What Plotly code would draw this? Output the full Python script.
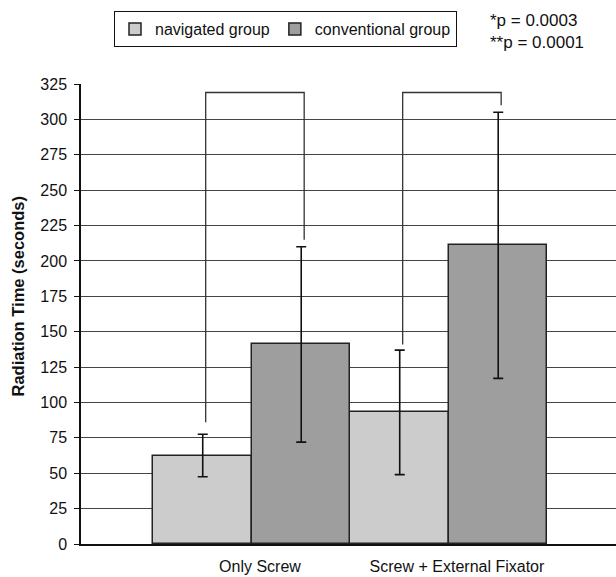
import plotly.graph_objects as go

categories = ["Only Screw", "Screw + External Fixator"]
series_names = ["navigated group", "conventional group"]
navigated = [62.5, 93]
navigated_sd = [15, 44]
conventional = [141, 211]
conventional_sd = [69, 94]
bracket_top = [319, 319]
bracket_left_end = [86, 141]
bracket_right_end = [215, 310]
bracket_labels = ["*", "**"]
p_texts = ["*p = 0.0003", "**p = 0.0001"]
y_ticks = list(range(0, 326, 25))

FONT = "Liberation Sans, Arial, sans-serif"
NAV_COLOR = "#cbcccb"
CONV_COLOR = "#9d9e9d"

fig = go.Figure()
fig.add_trace(go.Bar(
    name=series_names[0], x=categories, y=navigated,
    marker=dict(color=NAV_COLOR, line=dict(color="#222", width=1.5)),
    error_y=dict(type="data", array=navigated_sd, color="#111", thickness=1.6, width=5),
))
fig.add_trace(go.Bar(
    name=series_names[1], x=categories, y=conventional,
    marker=dict(color=CONV_COLOR, line=dict(color="#222", width=1.5)),
    error_y=dict(type="data", array=conventional_sd, color="#111", thickness=1.6, width=5),
))

# significance brackets
for i in range(len(categories)):
    xl = i - 0.25 + 0.015
    xr = i + 0.25 + 0.015
    fig.add_shape(type="path", xref="x", yref="y",
                  path=f"M {xl} {bracket_left_end[i]} L {xl} {bracket_top[i]} L {xr} {bracket_top[i]} L {xr} {bracket_right_end[i]}",
                  line=dict(color="#333", width=1.3))
    fig.add_annotation(x=i - 0.02, y=331, xref="x", yref="y", text=bracket_labels[i],
                       showarrow=False, font=dict(family=FONT, size=16, color="#111"),
                       xanchor="center", yanchor="middle")

for k, t in enumerate(p_texts):
    fig.add_annotation(x=(488 - 81) / 535, y=[1.139, 1.091][k], xref="paper", yref="paper",
                       text=t, showarrow=False, xanchor="left", yanchor="middle",
                       font=dict(family=FONT, size=17, color="#111"))

fig.add_annotation(x=(17.5 - 81) / 535, y=0.537, xref="paper", yref="paper",
                   text="<b>Radiation Time (seconds)</b>", textangle=-90, showarrow=False,
                   xanchor="center", yanchor="middle",
                   font=dict(family=FONT, size=16.5, color="#111"))

fig.update_layout(
    width=616, height=577,
    margin=dict(l=81, r=0, t=84, b=33),
    paper_bgcolor="white", plot_bgcolor="white",
    barmode="group", bargap=0, bargroupgap=0,
    font=dict(family=FONT, size=16, color="#111"),
    legend=dict(orientation="h", x=(114 - 81) / 535, y=(544 - 11) / 460,
                xanchor="left", yanchor="top", bordercolor="#111", borderwidth=1,
                font=dict(family=FONT, size=16, color="#111"), itemwidth=30,
                bgcolor="white"),
    showlegend=True,
)
fig.update_xaxes(
    type="category", range=[-0.868, 1.848], showgrid=False,
    showline=True, linecolor="#111", linewidth=1.5, ticks="",
    ticklabelstandoff=7, ticklabelshift=8,
    tickfont=dict(family=FONT, size=16, color="#111"),
)
fig.update_yaxes(
    range=[0, 325], tickvals=y_ticks, showgrid=True, gridcolor="#444", gridwidth=1,
    showline=True, linecolor="#111", linewidth=1.5, ticks="outside", ticklen=5,
    tickcolor="#111", zeroline=False, ticklabelstandoff=4,
    tickfont=dict(family=FONT, size=16, color="#111"),
)

fig.write_html("out.html")
